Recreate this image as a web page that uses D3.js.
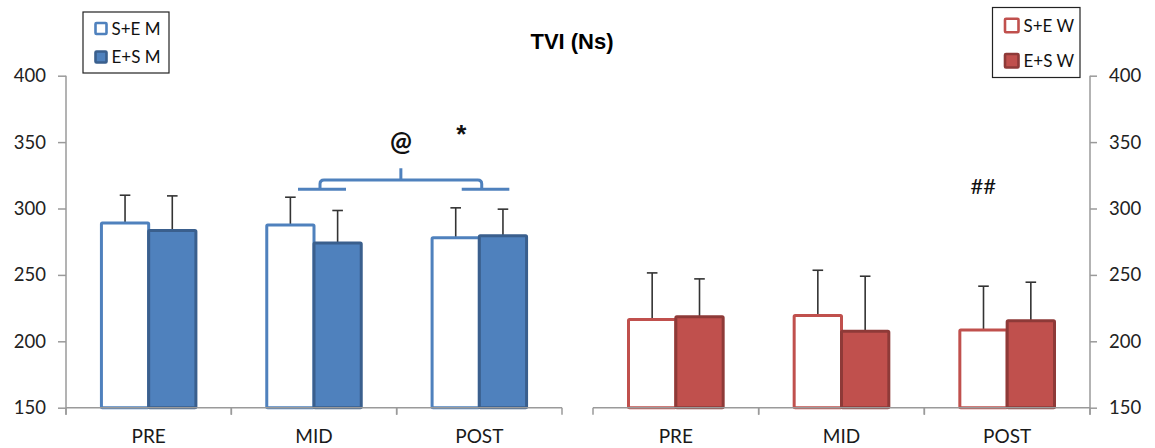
<!DOCTYPE html>
<html>
<head>
<meta charset="utf-8">
<script src="https://cdn.jsdelivr.net/npm/d3@7"></script>
<style>
  html, body { margin: 0; padding: 0; background: #fff; }
  svg { display: block; }
</style>
</head>
<body>
<svg id="chart" width="1155" height="448"></svg>
<script>
// ---- data ----
const categories = ["PRE", "MID", "POST"];
const tickLabels = [150, 200, 250, 300, 350, 400];
const seriesNamesM = ["S+E M", "E+S M"];
const seriesNamesW = ["S+E W", "E+S W"];
const menSE = [289, 287.5, 278];
const menSE_sd = [21, 21, 22.5];
const menES = [283.5, 274, 279.5];
const menES_sd = [26, 24.5, 20];
const womenSE = [216.5, 219.5, 208.5];
const womenSE_sd = [35, 34, 33];
const womenES = [218.5, 207.5, 215.5];
const womenES_sd = [28.5, 41.5, 29];
const title = "TVI (Ns)";

// ---- setup ----
const svg = d3.select("#chart");
const blue = "#4f81bd", blueDark = "#3a5f8d";
const red = "#c0504d", redDark = "#8e3a38";
const axisCol = "#9a9a9a";
const font = "Lato, 'Open Sans', sans-serif";

const y = d3.scaleLinear().domain([150, 400]).range([407.7, 75.7]);
const xL = d3.scaleBand().domain(categories).range([66, 562]).padding(0);
const xR = d3.scaleBand().domain(categories).range([593, 1090]).padding(0);

function drawPanel(x, se, seSd, es, esSd, light, dark) {
  const bw = x.bandwidth();
  const w = bw / 3.5;
  const off = (bw - 2 * w) / 2;
  const rows = categories.map((c, i) => ({c, se: se[i], seSd: seSd[i], es: es[i], esSd: esSd[i]}));
  const g = svg.append("g");
  rows.forEach(d => {
    const pairs = [
      {cx: x(d.c) + off + w / 2, v: d.se, sd: d.seSd},
      {cx: x(d.c) + off + w * 1.5, v: d.es, sd: d.esSd}
    ];
    pairs.forEach(p => {
      g.append("line").attr("x1", p.cx).attr("x2", p.cx)
        .attr("y1", y(p.v)).attr("y2", y(p.v + p.sd))
        .attr("stroke", "#333").attr("stroke-width", 1.6);
      g.append("line").attr("x1", p.cx - 5.3).attr("x2", p.cx + 5.3)
        .attr("y1", y(p.v + p.sd)).attr("y2", y(p.v + p.sd))
        .attr("stroke", "#333").attr("stroke-width", 1.6);
    });
  });
  g.selectAll("rect.se").data(rows).enter().append("rect")
    .attr("x", d => x(d.c) + off).attr("width", w)
    .attr("y", d => y(d.se)).attr("height", d => y(150) - y(d.se))
    .attr("fill", "#fff").attr("stroke", light).attr("stroke-width", 3)
    .attr("rx", 1);
  g.selectAll("rect.es").data(rows).enter().append("rect")
    .attr("x", d => x(d.c) + off + w).attr("width", w)
    .attr("y", d => y(d.es)).attr("height", d => y(150) - y(d.es))
    .attr("fill", light).attr("stroke", dark).attr("stroke-width", 3)
    .attr("rx", 1);
  const [r0, r1] = x.range();
  const base = svg.append("g");
  base.append("line").attr("x1", r0).attr("x2", r1).attr("y1", y(150)).attr("y2", y(150))
    .attr("stroke", axisCol).attr("stroke-width", 1.5);
  categories.forEach(c => {
    [x(c), x(c) + bw].forEach(px => {
      base.append("line").attr("x1", px).attr("x2", px)
        .attr("y1", y(150)).attr("y2", y(150) + 7)
        .attr("stroke", axisCol).attr("stroke-width", 1.5);
    });
    base.append("text").attr("x", x(c) + bw / 2).attr("y", 443)
      .attr("text-anchor", "middle").attr("font-family", font)
      .attr("font-size", 19).attr("fill", "#1a1a1a").text(c);
  });
}

drawPanel(xL, menSE, menSE_sd, menES, menES_sd, blue, blueDark);
drawPanel(xR, womenSE, womenSE_sd, womenES, womenES_sd, red, redDark);

const axL = svg.append("g").attr("transform", "translate(66,0)")
  .call(d3.axisLeft(y).tickValues(tickLabels).tickSize(8).tickPadding(12).tickFormat(d3.format("d")));
const axR = svg.append("g").attr("transform", "translate(1090,0)")
  .call(d3.axisRight(y).tickValues(tickLabels).tickSize(7).tickPadding(12).tickFormat(d3.format("d")));
[axL, axR].forEach(ax => {
  ax.select(".domain").remove();
  ax.selectAll(".tick line").attr("stroke", axisCol).attr("stroke-width", 1.5);
  ax.selectAll(".tick text").attr("font-family", font).attr("font-size", 18.5).attr("fill", "#222");
  ax.append("line").attr("x1", 0).attr("x2", 0).attr("y1", y(400)).attr("y2", y(150) + 7)
    .attr("stroke", axisCol).attr("stroke-width", 1.5);
});

svg.append("text").attr("x", 572).attr("y", 49).attr("text-anchor", "middle")
  .attr("font-family", "'Liberation Sans', Arial, sans-serif").attr("font-weight", "bold")
  .attr("font-size", 22).attr("fill", "#000").text(title);

{
  const bw = xL.bandwidth();
  const mc = xL("MID") + bw / 2, pc = xL("POST") + bw / 2;
  const yLow = y(314.5), yHigh = y(321.5), yTop = y(330.3);
  const lLeg = mc + 6, rLeg = pc + 2.4, mid = (lLeg + rLeg) / 2;
  const r = 4;
  const b = svg.append("g").attr("fill", "none").attr("stroke", blue).attr("stroke-width", 3);
  b.append("line").attr("x1", mc - 16).attr("x2", mc + 32).attr("y1", yLow).attr("y2", yLow);
  b.append("line").attr("x1", pc - 17.6).attr("x2", pc + 30).attr("y1", yLow).attr("y2", yLow);
  b.append("path").attr("d",
    `M${lLeg},${yLow} L${lLeg},${yHigh + r} Q${lLeg},${yHigh} ${lLeg + r},${yHigh} ` +
    `L${rLeg - r},${yHigh} Q${rLeg},${yHigh} ${rLeg},${yHigh + r} L${rLeg},${yLow}`);
  b.append("line").attr("x1", mid).attr("x2", mid).attr("y1", yHigh).attr("y2", yTop);
  svg.append("text").attr("x", mid).attr("y", 151).attr("text-anchor", "middle")
    .attr("font-family", font).attr("font-weight", "bold").attr("font-size", 26).attr("fill", "#111").text("@");
  svg.append("text").attr("x", pc - 18).attr("y", 143).attr("text-anchor", "middle")
    .attr("font-family", "'Liberation Sans', Arial, sans-serif").attr("font-weight", "bold")
    .attr("font-size", 26).attr("fill", "#111").text("*");
}
svg.append("text").attr("x", xR("POST") + xR.bandwidth() / 2 - 24).attr("y", 194)
  .attr("text-anchor", "middle").attr("font-family", font).attr("font-size", 22)
  .attr("fill", "#111").text("##");

function legend(x0, y0, w, h, names, light, dark, sw, rowYs) {
  const g = svg.append("g");
  g.append("rect").attr("x", x0).attr("y", y0).attr("width", w).attr("height", h)
    .attr("fill", "#fff").attr("stroke", "#222").attr("stroke-width", 1.2);
  names.forEach((n, i) => {
    const cy = rowYs[i];
    g.append("rect").attr("x", x0 + 12.5).attr("y", cy - sw / 2).attr("width", sw).attr("height", sw)
      .attr("fill", i === 0 ? "#fff" : light).attr("stroke", i === 0 ? light : dark)
      .attr("stroke-width", 2.6).attr("rx", 1);
    g.append("text").attr("x", x0 + 12.5 + sw + 5).attr("y", cy + 6)
      .attr("font-family", font).attr("font-size", 17).attr("fill", "#111").text(n);
  });
}
legend(83, 12, 86, 61, seriesNamesM, blue, blueDark, 11, [28.5, 57]);
legend(992.5, 7.5, 87.5, 70, seriesNamesW, red, redDark, 13.5, [25.5, 60.8]);
</script>
</body>
</html>
